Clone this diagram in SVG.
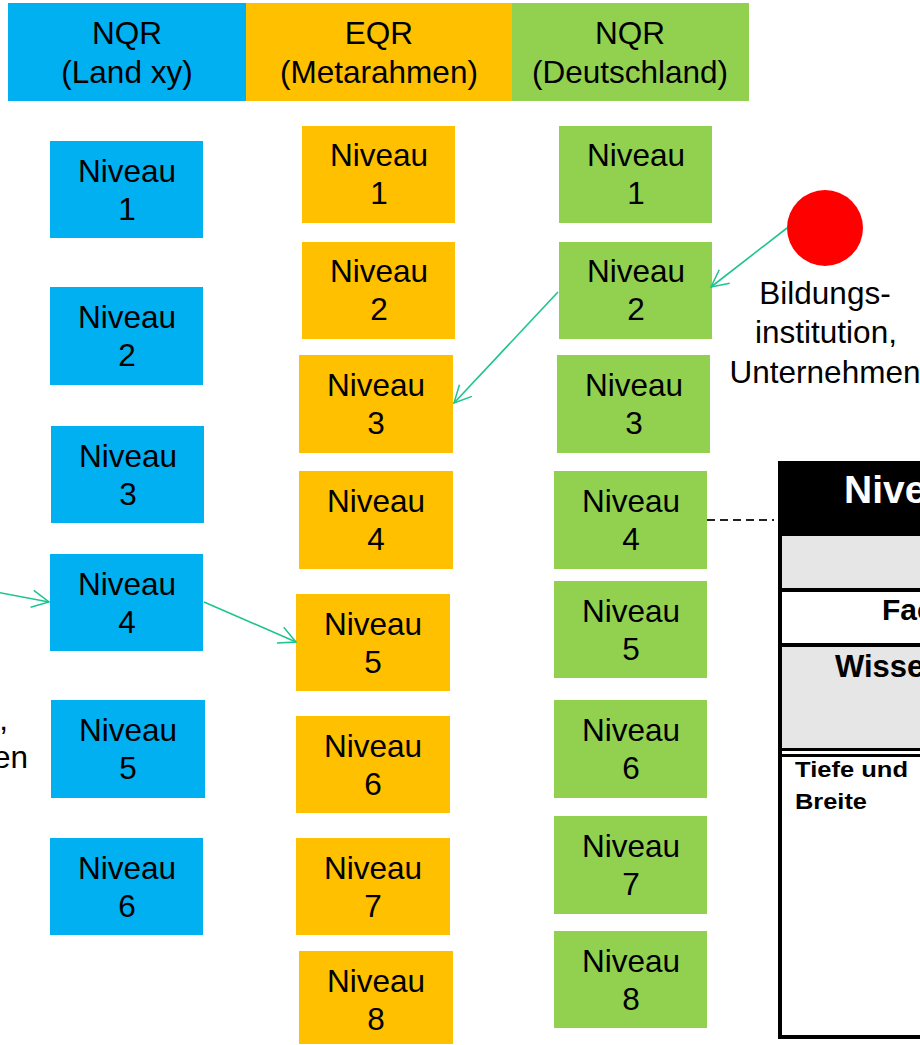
<svg xmlns="http://www.w3.org/2000/svg" width="920" height="1045" viewBox="0 0 920 1045">
<style>
.t{font-family:"Liberation Sans",Arial,sans-serif;font-size:31.5px;fill:#000;text-anchor:middle}
.e{text-anchor:end}
.b{fill:#00B0F0}.o{fill:#FFC000}.g{fill:#92D050}
.conn{stroke:#1DC48F;stroke-width:1.6;fill:none;marker-end:url(#ah)}
.tb{font-family:"Liberation Sans",Arial,sans-serif;font-weight:bold;fill:#000}
</style>
<defs>
<marker id="ah" viewBox="0 0 20 20" refX="19" refY="10" markerWidth="19" markerHeight="19" markerUnits="userSpaceOnUse" orient="auto">
<path d="M1,1 L19,10 L1,19" fill="none" stroke="#1DC48F" stroke-width="1.6"/>
</marker>
</defs>
<rect width="920" height="1045" fill="#fff"/>

<g id="hdr-nqr-land"><rect class="b" x="8" y="3" width="238" height="98"/><text class="t" x="127" y="44">NQR</text><text class="t" x="127" y="83">(Land xy)</text></g>
<g id="hdr-eqr"><rect class="o" x="246" y="3" width="266" height="98"/><text class="t" x="379" y="44">EQR</text><text class="t" x="379" y="83">(Metarahmen)</text></g>
<g id="hdr-nqr-de"><rect class="g" x="512" y="3" width="237" height="98"/><text class="t" x="630" y="44">NQR</text><text class="t" x="630" y="83">(Deutschland)</text></g>

<g id="b1"><rect class="b" x="50" y="141" width="153" height="97"/><text class="t" x="127" y="182">Niveau</text><text class="t" x="127" y="220">1</text></g>
<g id="b2"><rect class="b" x="50" y="287" width="153" height="98"/><text class="t" x="127" y="328">Niveau</text><text class="t" x="127" y="366">2</text></g>
<g id="b3"><rect class="b" x="51" y="426" width="153" height="97"/><text class="t" x="128" y="467">Niveau</text><text class="t" x="128" y="505">3</text></g>
<g id="b4"><rect class="b" x="50" y="554" width="153" height="97"/><text class="t" x="127" y="595">Niveau</text><text class="t" x="127" y="633">4</text></g>
<g id="b5"><rect class="b" x="51" y="700" width="154" height="98"/><text class="t" x="128" y="741">Niveau</text><text class="t" x="128" y="779">5</text></g>
<g id="b6"><rect class="b" x="50" y="838" width="153" height="97"/><text class="t" x="127" y="879">Niveau</text><text class="t" x="127" y="917">6</text></g>

<g id="o1"><rect class="o" x="302" y="126" width="153" height="97"/><text class="t" x="379" y="166">Niveau</text><text class="t" x="379" y="204">1</text></g>
<g id="o2"><rect class="o" x="302" y="242" width="153" height="97"/><text class="t" x="379" y="282">Niveau</text><text class="t" x="379" y="320">2</text></g>
<g id="o3"><rect class="o" x="299" y="355" width="154" height="98"/><text class="t" x="376" y="396">Niveau</text><text class="t" x="376" y="434">3</text></g>
<g id="o4"><rect class="o" x="299" y="471" width="154" height="98"/><text class="t" x="376" y="512">Niveau</text><text class="t" x="376" y="550">4</text></g>
<g id="o5"><rect class="o" x="296" y="594" width="154" height="97"/><text class="t" x="373" y="635">Niveau</text><text class="t" x="373" y="673">5</text></g>
<g id="o6"><rect class="o" x="296" y="716" width="154" height="97"/><text class="t" x="373" y="757">Niveau</text><text class="t" x="373" y="795">6</text></g>
<g id="o7"><rect class="o" x="296" y="838" width="154" height="97"/><text class="t" x="373" y="879">Niveau</text><text class="t" x="373" y="917">7</text></g>
<g id="o8"><rect class="o" x="299" y="951" width="154" height="93"/><text class="t" x="376" y="992">Niveau</text><text class="t" x="376" y="1030">8</text></g>

<g id="g1"><rect class="g" x="559" y="126" width="153" height="97"/><text class="t" x="636" y="166">Niveau</text><text class="t" x="636" y="204">1</text></g>
<g id="g2"><rect class="g" x="559" y="242" width="153" height="97"/><text class="t" x="636" y="282">Niveau</text><text class="t" x="636" y="320">2</text></g>
<g id="g3"><rect class="g" x="557" y="355" width="153" height="98"/><text class="t" x="634" y="396">Niveau</text><text class="t" x="634" y="434">3</text></g>
<g id="g4"><rect class="g" x="554" y="471" width="153" height="98"/><text class="t" x="631" y="512">Niveau</text><text class="t" x="631" y="550">4</text></g>
<g id="g5"><rect class="g" x="554" y="581" width="153" height="97"/><text class="t" x="631" y="622">Niveau</text><text class="t" x="631" y="660">5</text></g>
<g id="g6"><rect class="g" x="554" y="700" width="153" height="98"/><text class="t" x="631" y="741">Niveau</text><text class="t" x="631" y="779">6</text></g>
<g id="g7"><rect class="g" x="554" y="816" width="153" height="98"/><text class="t" x="631" y="857">Niveau</text><text class="t" x="631" y="895">7</text></g>
<g id="g8"><rect class="g" x="554" y="931" width="153" height="97"/><text class="t" x="631" y="972">Niveau</text><text class="t" x="631" y="1010">8</text></g>

<g id="institution-right"><circle cx="825" cy="228" r="38" fill="#FF0000"/><text class="t" x="825" y="304">Bildungs-</text><text class="t" x="826" y="343">institution,</text><text class="t" x="825" y="383">Unternehmen</text></g>
<g id="institution-left"><text class="t e" x="0" y="691">Bildungs-</text><text class="t e" x="8" y="730">institution,</text><text class="t e" x="28" y="768">Unternehmen</text></g>

<g id="table">
<rect x="780" y="463" width="300" height="574" fill="#fff" stroke="#000" stroke-width="4"/>
<rect x="778" y="461" width="142" height="75" fill="#000"/>
<text class="tb" x="844" y="503" font-size="39" style="fill:#fff">Niveau 4</text>
<rect x="782" y="536" width="138" height="52" fill="#E6E6E6"/>
<rect x="782" y="588" width="138" height="4" fill="#000"/>
<text class="tb" x="882" y="620" font-size="30">Fachkompetenz</text>
<rect x="782" y="643" width="138" height="4" fill="#000"/>
<rect x="782" y="647" width="138" height="101" fill="#E6E6E6"/>
<text class="tb" x="835" y="677" font-size="31">Wissen</text>
<rect x="782" y="748" width="138" height="3" fill="#000"/>
<rect x="782" y="754" width="138" height="3" fill="#000"/>
<text class="tb" x="795" y="777" font-size="21.5" textLength="113" lengthAdjust="spacingAndGlyphs">Tiefe und</text>
<text class="tb" x="795" y="809" font-size="21.5" textLength="72" lengthAdjust="spacingAndGlyphs">Breite</text>
</g>

<g id="connectors">
<line class="conn" x1="-20" y1="589" x2="49" y2="602"/>
<line class="conn" x1="204" y1="602" x2="296" y2="642"/>
<line class="conn" x1="558" y1="292" x2="454" y2="403"/>
<line class="conn" x1="787" y1="228" x2="711" y2="287"/>
<line x1="707" y1="520" x2="774" y2="520" stroke="#222" stroke-width="2" stroke-dasharray="8,5"/>
</g>
</svg>
